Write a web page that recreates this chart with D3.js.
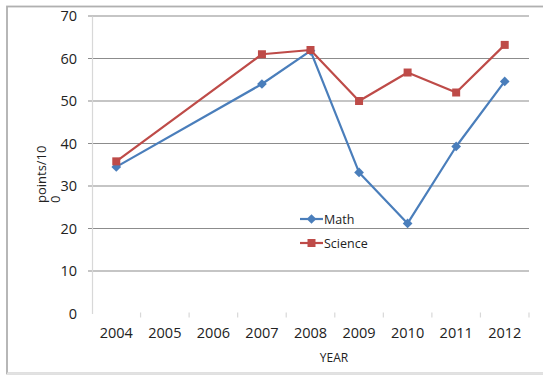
<!DOCTYPE html>
<html>
<head>
<meta charset="utf-8">
<script src="https://cdn.jsdelivr.net/npm/d3@7"></script>
<style>
  html, body { margin: 0; padding: 0; background: #fff; }
  svg { display: block; font-family: "Open Sans", "Liberation Sans", sans-serif; }
</style>
</head>
<body>
<svg id="chart" width="543" height="376"></svg>
<script>
// Test scores per year (points out of 100)
const years = ["2004", "2005", "2006", "2007", "2008", "2009", "2010", "2011", "2012"];
const dataYears = ["2004", "2007", "2008", "2009", "2010", "2011", "2012"];
const mathScores = [34.5, 54, 61.8, 33.2, 21.2, 39.3, 54.6];
const scienceScores = [35.8, 61, 62, 50, 56.7, 52, 63.2];
const yTicks = [0, 10, 20, 30, 40, 50, 60, 70];
const seriesNames = ["Math", "Science"];
const seriesColors = ["#4a7ebb", "#be4b48"];

const svg = d3.select("#chart");
const plot = { left: 92, right: 529, top: 16, bottom: 313.5 };

// Outer chart frame
svg.append("rect")
  .attr("x", 7).attr("y", 6.5).attr("width", 560).attr("height", 367)
  .attr("fill", "none").attr("stroke", "#b0b0b0").attr("stroke-width", 1.8);
svg.append("line")
  .attr("x1", 7).attr("x2", 543).attr("y1", 373.5).attr("y2", 373.5)
  .attr("stroke", "#e2e2e2").attr("stroke-width", 2);

const x = d3.scaleBand().domain(years).range([plot.left, plot.right]).padding(0);
const y = d3.scaleLinear().domain([0, 70]).range([plot.bottom, plot.top]);

// Horizontal gridlines
svg.append("g")
  .selectAll("line")
  .data(yTicks.filter(t => t > 0))
  .join("line")
  .attr("x1", plot.left - 4).attr("x2", plot.right)
  .attr("y1", d => y(d)).attr("y2", d => y(d))
  .attr("stroke", "#8c8c8c").attr("stroke-width", 1.2);

// Y axis
const yAxis = svg.append("g")
  .attr("transform", `translate(${plot.left},0)`)
  .call(d3.axisLeft(y).tickValues(yTicks).tickSize(0).tickPadding(15));
yAxis.select(".domain").attr("stroke", "#d8d8d8").attr("stroke-width", 1.2);
yAxis.selectAll("text").attr("font-size", 14.5).attr("fill", "#222")
  .attr("font-family", "\"Open Sans\", sans-serif");

// X axis with ticks at category boundaries
const xAxis = svg.append("g")
  .attr("transform", `translate(0,${plot.bottom})`)
  .call(d3.axisBottom(x).tickSize(0).tickPadding(14));
xAxis.select(".domain").remove();
xAxis.selectAll("text").attr("font-size", 14.5).attr("fill", "#222")
  .attr("font-family", "\"Open Sans\", sans-serif");
svg.append("g")
  .selectAll("line")
  .data(years.slice(1).concat(["end"]))
  .join("line")
  .attr("x1", (d, i) => plot.left + x.bandwidth() * (i + 1))
  .attr("x2", (d, i) => plot.left + x.bandwidth() * (i + 1))
  .attr("y1", plot.bottom - 1).attr("y2", plot.bottom + 4)
  .attr("stroke", "#d8d8d8").attr("stroke-width", 1.2);

// Axis titles
svg.append("text")
  .attr("x", 334).attr("y", 362)
  .attr("text-anchor", "middle").attr("font-size", 12).attr("fill", "#222")
  .text("YEAR");
const yTitle = svg.append("text")
  .attr("transform", "translate(45.5,203) rotate(-90)")
  .attr("font-size", 13).attr("fill", "#222");
yTitle.append("tspan").attr("x", 0).attr("y", 0).text("points/10");
yTitle.append("tspan").attr("x", 0).attr("y", 14).text("0");

// Series lines and markers
const series = [mathScores, scienceScores];
const cx = d => x(d) + x.bandwidth() / 2;
const line = d3.line().x(d => cx(d.year)).y(d => y(d.value));

const diamond = d3.symbol().type(d3.symbolDiamond2).size(60);
const square = d3.symbol().type(d3.symbolSquare).size(64);

series.forEach((vals, si) => {
  const pts = dataYears.map((yr, i) => ({ year: yr, value: vals[i] }));
  svg.append("path")
    .datum(pts)
    .attr("d", line)
    .attr("fill", "none")
    .attr("stroke", seriesColors[si])
    .attr("stroke-width", 2.2)
    .attr("stroke-linejoin", "round");
  svg.append("g")
    .selectAll("path")
    .data(pts)
    .join("path")
    .attr("transform", d => `translate(${cx(d.year)},${y(d.value)})`)
    .attr("d", si === 0 ? diamond : square)
    .attr("fill", seriesColors[si]);
});

// Legend
const legend = svg.append("g").attr("transform", "translate(300,219)");
seriesNames.forEach((name, i) => {
  const g = legend.append("g").attr("transform", `translate(0,${i * 24})`);
  g.append("line").attr("x1", 0).attr("x2", 23).attr("y1", 0).attr("y2", 0)
    .attr("stroke", seriesColors[i]).attr("stroke-width", 2.2);
  g.append("path")
    .attr("transform", "translate(11.5,0)")
    .attr("d", i === 0 ? diamond : square)
    .attr("fill", seriesColors[i]);
  g.append("text").attr("x", 24).attr("y", 4.5)
    .attr("font-size", 12.5).attr("fill", "#222").text(name);
});
</script>
</body>
</html>
